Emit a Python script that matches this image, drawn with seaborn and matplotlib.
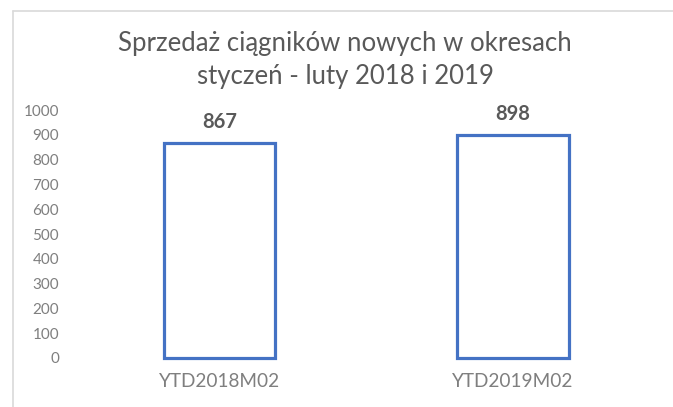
import numpy as np
import matplotlib
matplotlib.use('Agg')
import matplotlib.pyplot as plt
import pandas as pd
import seaborn as sns

# data
periods = ['YTD2018M02', 'YTD2019M02']
sales = [867, 898]

df = pd.DataFrame({'okres': periods, 'sprzedaz': sales})

sns.set_style('white')
plt.rcParams['font.family'] = ['Lato', 'DejaVu Sans']

fig = plt.figure(figsize=(6.73, 4.07), dpi=100)
ax = fig.add_axes([0.1085, 0.1204, 0.872, 0.6093])

sns.barplot(data=df, x='okres', y='sprzedaz', ax=ax, width=0.38,
            color='white', edgecolor='#4472C4', linewidth=2.3)
for p in ax.patches:
    p.set_clip_on(False)

ax.set_ylim(0, 1000)
ax.set_xlim(-0.5, 1.5)
ax.set_yticks(np.arange(0, 1001, 100))
ax.set_xlabel('')
ax.set_ylabel('')
sns.despine(ax=ax, left=True, bottom=True)
ax.tick_params(axis='y', labelsize=11, labelcolor='#7f7f7f', length=0, pad=10)
ax.tick_params(axis='x', labelsize=13.7, labelcolor='#7f7f7f', length=0, pad=11)

for i, v in enumerate(sales):
    ax.annotate(str(v), (i, v), xytext=(0, 15), textcoords='offset points',
                ha='center', va='center', fontsize=14.5, fontweight='bold',
                color='#595959')

fig.text(0.513, 0.853, 'Sprzedaż ciągników nowych w okresach\nstyczeń - luty 2018 i 2019',
         ha='center', va='center', fontsize=18.5, color='#595959', linespacing=1.4)

# chart frame (top and left visible)
fig.add_artist(plt.Line2D([12.5 / 673, 1.0], [1 - 10.5 / 407] * 2,
                          color='#d9d9d9', lw=1.2, transform=fig.transFigure))
fig.add_artist(plt.Line2D([12.5 / 673] * 2, [0, 1 - 10.5 / 407],
                          color='#d9d9d9', lw=1.2, transform=fig.transFigure))

fig.savefig('out.png', dpi=100)
